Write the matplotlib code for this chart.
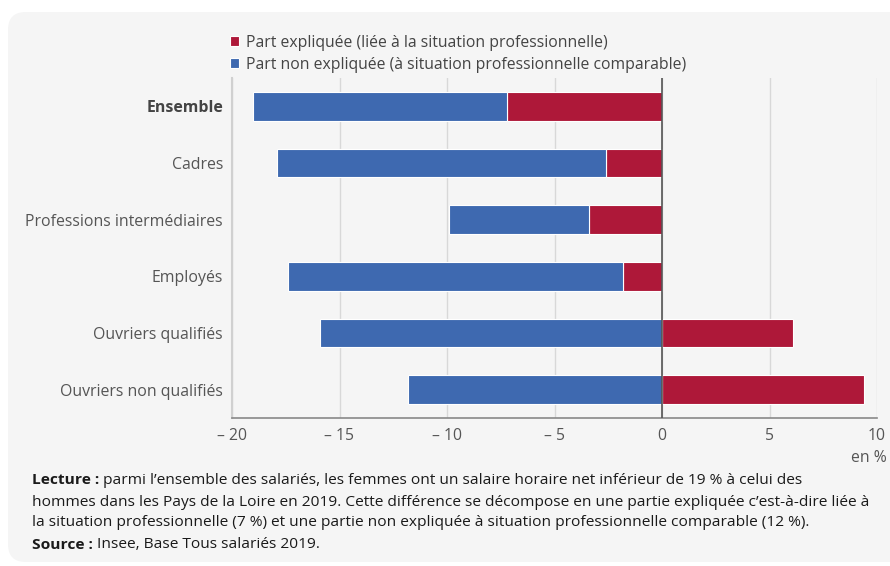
import matplotlib
matplotlib.use("Agg")
import matplotlib.pyplot as plt
from matplotlib.patches import FancyBboxPatch

plt.rcParams['font.family'] = ['Open Sans', 'DejaVu Sans']

categories = ["Ensemble", "Cadres", "Professions intermédiaires", "Employés",
              "Ouvriers qualifiés", "Ouvriers non qualifiés"]
part_expliquee = [-7.2, -2.6, -3.4, -1.8, 6.1, 9.4]
part_non_expliquee = [-11.8, -15.3, -6.5, -15.6, -15.9, -11.8]
xticks = [-20, -15, -10, -5, 0, 5, 10]
xtick_labels = ["– 20", "– 15", "– 10", "– 5", "0", "5", "10"]
legend_labels = ["Part expliquée (liée à la situation professionnelle)",
                 "Part non expliquée (à situation professionnelle comparable)"]

RED = "#ae1839"
BLUE = "#3e69b0"
W, H = 890, 566

fig = plt.figure(figsize=(W / 100, H / 100), dpi=100)
fig.patch.set_facecolor("white")
bg = FancyBboxPatch((8 / W, 4 / H), (W + 20) / W, (H - 16) / H,
                    boxstyle="round,pad=0,rounding_size=0.02",
                    transform=fig.transFigure, facecolor="#f5f5f5",
                    edgecolor="none", zorder=-10, mutation_aspect=W / H)
fig.patches.append(bg)

ax = fig.add_axes([232 / W, 1 - 418 / H, (877 - 232) / W, 340 / H])
ax.set_facecolor("#f5f5f5")

y = list(range(len(categories)))
h = 0.51
left_blue = [e if e < 0 else 0 for e in part_expliquee]
b1 = ax.barh(y, part_expliquee, height=h, color=RED, edgecolor="white",
             linewidth=0.8, zorder=3, label=legend_labels[0])
b2 = ax.barh(y, part_non_expliquee, left=left_blue, height=h, color=BLUE,
             edgecolor="white", linewidth=0.8, zorder=3, label=legend_labels[1])

ax.set_xlim(-20, 10)
ax.set_ylim(5.5, -0.5)
ax.set_xticks(xticks)
ax.set_xticklabels(xtick_labels, fontsize=11.3, color="#555555")
ax.set_yticks(y)
ax.set_yticklabels(categories, fontsize=11.4, color="#555555")
for lbl in ax.get_yticklabels():
    if lbl.get_text() == "Ensemble":
        lbl.set_fontweight("bold")
        lbl.set_color("#444444")
ax.tick_params(axis="x", length=0, pad=7)
ax.tick_params(axis="y", length=0, pad=6.5)
ax.grid(axis="x", color="#d8d8d8", linewidth=1, zorder=0)
ax.axvline(0, color="#555555", linewidth=1.2, zorder=4)
for s in ["top", "right"]:
    ax.spines[s].set_visible(False)
ax.spines["left"].set_color("#d0d0d0")
ax.spines["left"].set_linewidth(1.5)
ax.spines["bottom"].set_color("#888888")
ax.spines["bottom"].set_linewidth(1.2)

fig.legend(handles=[b1, b2], labels=legend_labels, loc="upper left",
           bbox_to_anchor=(230 / W, 1 - 35 / H), frameon=False,
           fontsize=11.3, handlelength=0.6, handleheight=0.6, handletextpad=0.45,
           labelspacing=0.38, labelcolor="#444444", borderaxespad=0, borderpad=0)

fig.text(887 / W, 1 - 458 / H, "en %", ha="right", va="center",
         fontsize=11.3, color="#555555")

lines = [
    [("Lecture : ", "bold"), ("parmi l’ensemble des salariés, les femmes ont un salaire horaire net inférieur de 19 % à celui des", "normal")],
    [("hommes dans les Pays de la Loire en 2019. Cette différence se décompose en une partie expliquée c’est-à-dire liée à", "normal")],
    [("la situation professionnelle (7 %) et une partie non expliquée à situation professionnelle comparable (12 %).", "normal")],
    [("Source : ", "bold"), ("Insee, Base Tous salariés 2019.", "normal")],
]
ys = [480, 502, 523, 545]
fig.canvas.draw()
renderer = fig.canvas.get_renderer()
for parts, yy in zip(lines, ys):
    x = 32 / W
    for txt, wt in parts:
        t = fig.text(x, 1 - yy / H, txt, ha="left", va="center", fontsize=11.15,
                     fontweight=wt, color="#1a1a1a")
        bb = t.get_window_extent(renderer=renderer)
        x += bb.width / W

fig.savefig("out.png", dpi=100)
